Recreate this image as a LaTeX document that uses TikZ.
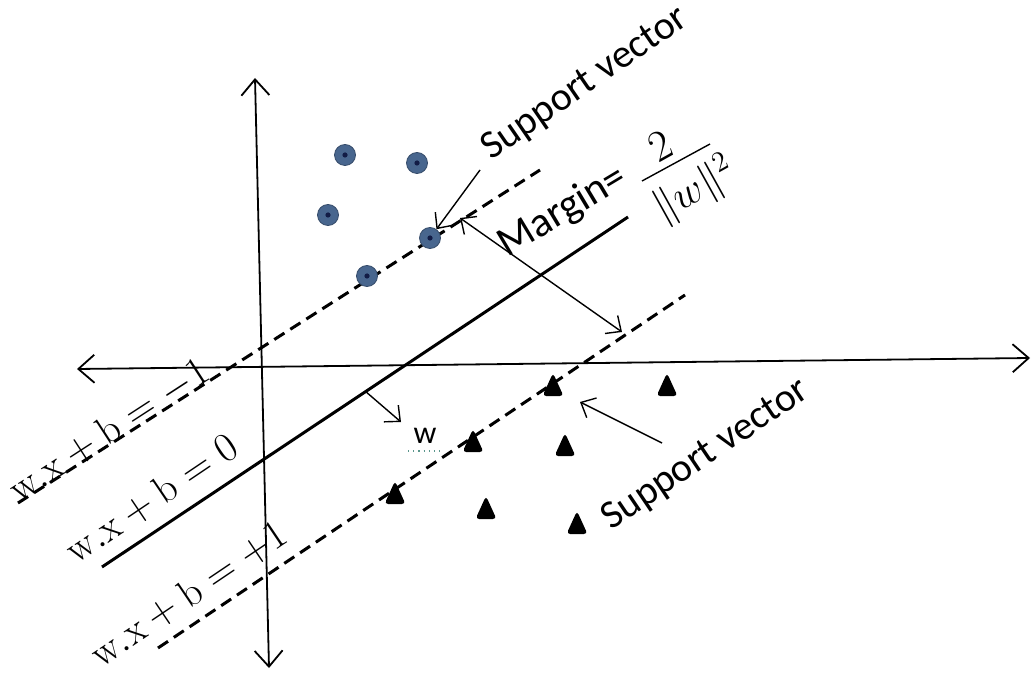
\documentclass[tikz,border=0pt]{standalone}
\usepackage{fontspec}
\setsansfont{Carlito}
\usetikzlibrary{arrows.meta}
\definecolor{dotblue}{RGB}{72,102,142}
\definecolor{dotdark}{RGB}{18,28,70}
\definecolor{spell}{RGB}{90,150,140}
\begin{document}
\begin{tikzpicture}[x=0.5pt,y=-0.5pt,
  axisline/.style={line width=0.9pt,{Straight Barb[length=8pt,width=14pt]}-{Straight Barb[length=8pt,width=14pt]}},
  ptr/.style={line width=0.7pt,-{Straight Barb[length=6pt,width=11pt]}},
  dptr/.style={line width=0.7pt,{Straight Barb[length=6pt,width=11pt]}-{Straight Barb[length=6pt,width=11pt]}},
  hyper/.style={line width=1.5pt},
  marginline/.style={line width=1.5pt,dash pattern=on 6pt off 3.5pt},
  eq/.style={font=\fontsize{20}{23}\selectfont,inner sep=0pt},
  lbl/.style={font=\sffamily\fontsize{20}{24}\selectfont,inner sep=0pt},
  dotc/.style={circle,fill=dotblue,draw=dotblue!75!black,line width=0.4pt,minimum size=10.5pt,inner sep=0pt,
    path picture={\fill[dotdark] (path picture bounding box.center) circle (1.3pt);}},
  tri/.pic={\fill[black,rounded corners=1.8pt] (0,-13) -- (10.5,10) -- (-10.5,10) -- cycle;}]
\useasboundingbox (0,0) rectangle (1032,673);

% axes
\coordinate (ytop) at (255,78);
\coordinate (ybot) at (269,668);
\coordinate (xleft) at (77,369);
\coordinate (xright) at (1030,358);
\draw[axisline] (ybot) -- (ytop);
\draw[axisline] (xleft) -- (xright);

% hyperplanes
\coordinate (u1) at (18,503);
\coordinate (u2) at (540,170);
\coordinate (s1) at (102,567);
\coordinate (s2) at (628,217);
\coordinate (d1) at (158,648);
\coordinate (d2) at (685,295);
\draw[marginline] (u1) -- (u2);
\draw[hyper] (s1) -- (s2);
\draw[marginline] (d1) -- (d2);

% circles (class -1)
\node[dotc] (c1) at (345,155) {};
\node[dotc] (c2) at (417,163) {};
\node[dotc] (c3) at (328,215) {};
\node[dotc] (c4) at (430,238) {};
\node[dotc] (c5) at (367,276) {};

% triangles (class +1)
\pic at (553,386) {tri};
\pic at (667,386) {tri};
\pic at (473,442) {tri};
\pic at (565,446) {tri};
\pic at (395,494) {tri};
\pic at (486,509) {tri};
\pic at (577,524) {tri};

% labels of hyperplanes
\node[eq,rotate=33] (l1) at (109,431) {$\mathrm{w.x}+\mathrm{b}=-1$};
\node[eq,rotate=34] (l2) at (152,499) {$\mathrm{w.x}+\mathrm{b}=0$};
\node[eq,rotate=34] (l3) at (189,594) {$\mathrm{w.x}+\mathrm{b}=+1$};

% support vector labels
\node[lbl,rotate=34.5] (sv1) at (585,84) {Support vector};
\node[lbl,rotate=34] (sv2) at (706,455) {Support vector};

% margin = 2 / ||w||^2
\node[font=\sffamily\fontsize{21}{24}\selectfont,inner sep=0pt,rotate=31,anchor=base west] (mg) at (507,258) {Margin=};
\coordinate (fb1) at (642,181);
\coordinate (fb2) at (710,144);
\draw[line width=0.7pt] (fb1) -- (fb2);
\node[font=\fontsize{22}{24}\selectfont,inner sep=0pt,rotate=29] (num) at (660,146) {2};
\node[font=\fontsize{21}{23}\selectfont,inner sep=0pt,rotate=29] (den) at (695,190) {$\|w\|^{2}$};

% w label
\node[font=\sffamily\fontsize{16}{18}\selectfont,inner sep=0pt] (wl) at (425,436) {w};
\coordinate (wu1) at (408,451);
\coordinate (wu2) at (443,451);
\draw[spell,dotted,line width=0.6pt] (wu1) -- (wu2);

% arrows
\coordinate (a1) at (480,170);
\draw[ptr] (a1) -- (c4);
\coordinate (m1) at (460,218);
\coordinate (m2) at (622,332);
\draw[dptr] (m1) -- (m2);
\coordinate (w1) at (365,391);
\coordinate (w2) at (401,422);
\draw[ptr] (w1) -- (w2);
\coordinate (b1) at (662,443);
\coordinate (b2) at (580,402);
\draw[ptr] (b1) -- (b2);
\end{tikzpicture}
\end{document}
